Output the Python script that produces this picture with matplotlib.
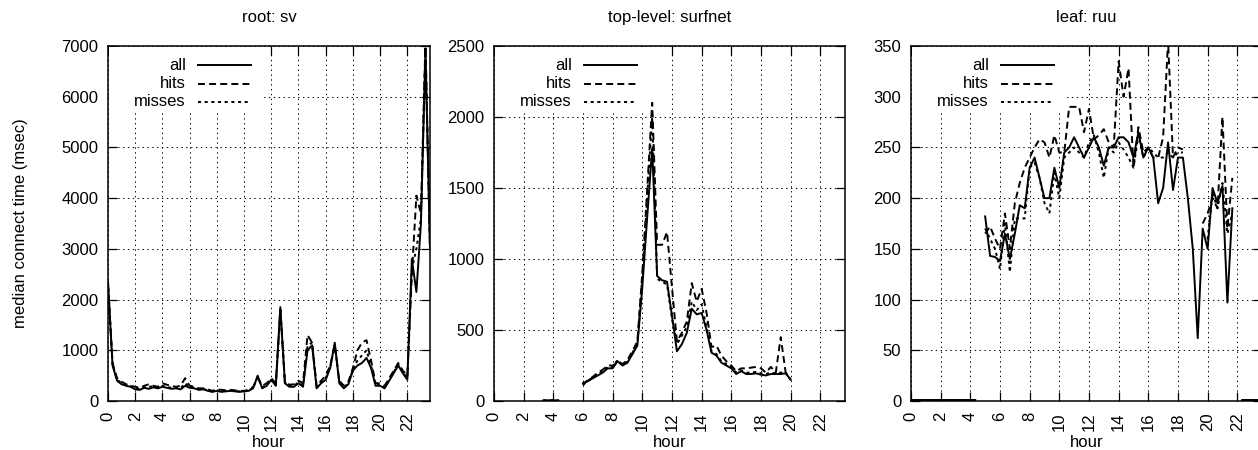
import numpy as np
import matplotlib
matplotlib.use("Agg")
import matplotlib.pyplot as plt
from matplotlib.patches import Rectangle
from matplotlib.lines import Line2D

plt.rcParams['font.family'] = ['Liberation Sans', 'DejaVu Sans']
plt.rcParams['font.size'] = 12
plt.rcParams['lines.scale_dashes'] = False

nan = np.nan
hours = np.arange(72) / 3.0   # 20 minute bins

# root: sv
sv_all = [2350, 700, 400, 330, 300, 280, 230, 220, 260, 240, 270, 250,
          280, 260, 240, 250, 230, 300, 260, 250, 220, 230, 200, 180,
          200, 180, 190, 200, 190, 180, 190, 200, 250, 500, 250, 300,
          420, 300, 1850, 350, 280, 280, 350, 280, 1000, 1100, 250, 350,
          420, 650, 1150, 350, 250, 330, 600, 700, 750, 850, 650, 300,
          300, 250, 400, 550, 700, 550, 420, 2800, 2150, 3500, 6900, 3000]
sv_hits = [2300, 750, 450, 380, 330, 300, 280, 260, 300, 330, 300, 280,
           350, 320, 300, 280, 300, 450, 300, 280, 250, 250, 230, 200,
           230, 220, 210, 220, 210, 200, 200, 220, 280, 450, 300, 350,
           450, 350, 1800, 400, 320, 330, 400, 350, 1300, 1150, 300, 400,
           500, 700, 1100, 400, 300, 380, 650, 1000, 1150, 1200, 800, 350,
           350, 300, 450, 600, 750, 600, 500, 2500, 4050, 3700, 7100, 3000]
sv_misses = [2350, 720, 420, 350, 310, 290, 250, 240, 280, 280, 290, 260,
             300, 280, 260, 260, 250, 350, 270, 260, 230, 240, 210, 190,
             210, 200, 200, 210, 200, 190, 195, 210, 260, 480, 270, 320,
             430, 320, 1800, 370, 300, 300, 370, 300, 1100, 1150, 270, 370,
             450, 680, 1100, 370, 270, 350, 620, 800, 900, 1000, 700, 320,
             320, 270, 420, 570, 720, 570, 450, 2600, 3000, 3600, 7000, 3000]

# top-level: surfnet (data from 6:00 to 20:00)
sn_all = [125, 140, 160, 180, 200, 230, 230, 280, 250, 270, 330, 390,
          800, 1300, 1780, 880, 850, 840, 600, 350, 400, 480, 650, 610,
          620, 500, 340, 320, 270, 250, 230, 190, 210, 190, 190, 195,
          185, 180, 190, 190, 190, 195, 150]
sn_hits = [110, 150, 170, 200, 220, 250, 250, 270, 260, 290, 350, 420,
           900, 1500, 2100, 1100, 1100, 1190, 800, 420, 480, 560, 830, 700,
           790, 620, 380, 390, 320, 280, 250, 210, 230, 230, 235, 240,
           230, 200, 240, 200, 450, 200, 150]
sn_misses = [120, 145, 165, 190, 210, 240, 240, 290, 255, 280, 340, 400,
             880, 1450, 2000, 860, 840, 820, 580, 400, 460, 520, 700, 640,
             680, 520, 350, 330, 280, 260, 240, 200, 215, 200, 200, 205,
             195, 190, 200, 195, 200, 200, 155]
sn_early = [5, 5, 5, 5]   # 3:20 - 4:20

# leaf: ruu (data from 5:00 to 21:40)
ruu_all = [182, 143, 142, 138, 165, 140, 165, 193, 190, 230, 240, 220,
           200, 200, 230, 210, 245, 250, 260, 250, 240, 250, 260, 250,
           232, 250, 250, 260, 260, 255, 240, 265, 240, 250, 240, 195,
           210, 255, 208, 240, 240, 200, 150, 62, 170, 150, 210, 195,
           212, 97, 190]
ruu_hits = [165, 172, 160, 150, 185, 150, 195, 215, 230, 240, 250, 258,
            255, 240, 262, 245, 245, 290, 290, 290, 265, 288, 258, 262,
            268, 255, 250, 335, 300, 328, 230, 270, 245, 250, 240, 240,
            260, 355, 240, 250, 248, nan, nan, nan, 175, 185, 200, 190,
            280, 170, 220]
ruu_misses = [170, 160, 150, 130, 175, 127, 180, 180, 180, 230, 235, 220,
              195, 185, 225, 200, 240, 245, 250, 245, 240, 255, 262, 245,
              220, 250, 245, 255, 248, 240, 230, 262, 240, 250, 245, 240,
              240, 245, 240, 245, 245, nan, nan, nan, 165, 160, 205, 190,
              215, 165, 185]
ruu_low = 1   # tiny values before 4:30 and after 22:20


def fill(vals, start, n=72):
    out = np.full(n, nan)
    out[start:start + len(vals)] = vals
    return out


series = []
series.append(("root: sv", 7000, 1000,
               np.array(sv_all, float), np.array(sv_hits, float), np.array(sv_misses, float)))

a = fill(sn_all, 18); h = fill(sn_hits, 18); m = fill(sn_misses, 18)
a[10:14] = sn_early; m[10:14] = sn_early
series.append(("top-level: surfnet", 2500, 500, a, h, m))

a = fill(ruu_all, 15); h = fill(ruu_hits, 15); m = fill(ruu_misses, 15)
for arr in (a, h, m):
    arr[0:14] = ruu_low
    arr[67:72] = ruu_low
series.append(("leaf: ruu", 350, 50, a, h, m))

W, H = 1258, 450
fig = plt.figure(figsize=(W / 100, H / 100), dpi=100)

# axes boxes in pixels: left, width
boxes = [(108, 322), (494, 351), (911, 351)]
top_px, bot_px = 46, 401

styles = [("all", "-", None), ("hits", "--", (5, 3)), ("misses", ":", (2.2, 2.6))]

for i, (title, ymax, ystep, s_all, s_hits, s_miss) in enumerate(series):
    left, width = boxes[i]
    ax = fig.add_axes([left / W, 1 - bot_px / H, width / W, (bot_px - top_px) / H])
    ax.set_xlim(0, 71 / 3.0)
    ax.set_ylim(0, ymax)
    ax.set_xticks(np.arange(0, 24, 2))
    ax.set_yticks(np.arange(0, ymax + 1, ystep))
    ax.tick_params(direction="in", length=6.5, width=0.9, top=True, right=True)
    ax.tick_params(axis="x", labelrotation=90, pad=8)
    ax.tick_params(axis="y", pad=7)
    for sp in ax.spines.values():
        sp.set_linewidth(1.1)
    ax.grid(True, color="black", linestyle=(0, (1, 2.5)), linewidth=0.7)
    ax.set_axisbelow(True)

    for (lab, ls, dash), data in zip(styles, (s_all, s_hits, s_miss)):
        ln, = ax.plot(hours, data, color="black", linewidth=1.4, linestyle=ls,
                      zorder=3, clip_on=True)
        if dash:
            ln.set_dashes(dash)

    # gnuplot style key: blank box, right aligned text, sample line
    wf = 1.0 / width
    hf = 1.0 / (bot_px - top_px)
    ax.add_patch(Rectangle((0.004, 1 - 64 * hf), 155 * wf, 64 * hf - 0.004,
                           transform=ax.transAxes, facecolor="white",
                           edgecolor="none", zorder=2))
    for k, (lab, ls, dash) in enumerate(styles):
        yy = 1 - (19 + 18.5 * k) * hf
        ax.text(78 * wf, yy, lab, transform=ax.transAxes, ha="right",
                va="center", fontsize=12, zorder=4)
        ln = Line2D([90 * wf, 143 * wf], [yy, yy], transform=ax.transAxes,
                    color="black", linewidth=1.4, linestyle=ls, zorder=4)
        if dash:
            ln.set_dashes(dash)
        ax.add_line(ln)

    ax.set_title(title, fontsize=12, pad=17)
    ax.set_xlabel("hour", fontsize=12, labelpad=3)
    if i == 0:
        ax.set_ylabel("median connect time (msec)", fontsize=12, labelpad=24)

fig.savefig("out.png", dpi=100)
